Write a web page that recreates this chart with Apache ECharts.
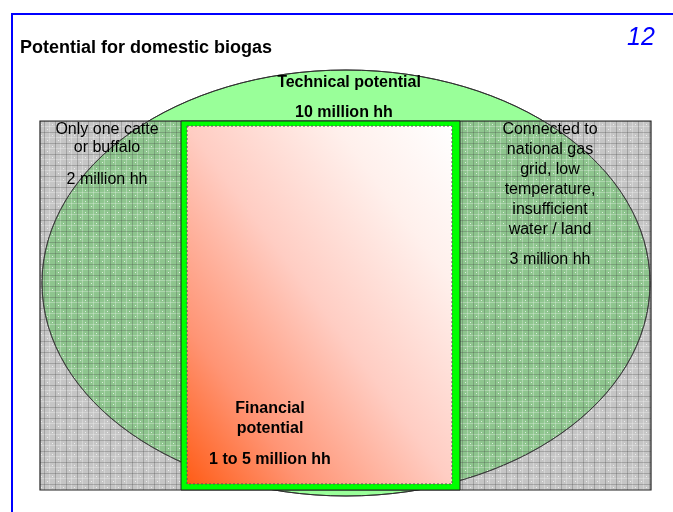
<!DOCTYPE html>
<html>
<head>
<meta charset="utf-8">
<style>
  html, body { margin: 0; padding: 0; background: #fff; }
  #chart { width: 673px; height: 512px; }
</style>
<script src="https://cdn.jsdelivr.net/npm/echarts@6/dist/echarts.min.js"></script>
</head>
<body>
<div id="chart"></div>
<script>
// --- data ---
const titleText = 'Potential for domestic biogas'
const pageNumber = '12'
const technicalName = 'Technical potential'
const technicalHouseholds = '10 million hh'
const regionNames = [
  'Only one catte\nor buffalo',
  'Financial\npotential',
  'Connected to\nnational gas\ngrid, low\ntemperature,\ninsufficient\nwater / land',
]
const regionHouseholds = ['2 million hh', '1 to 5 million hh', '3 million hh']

// --- layout (diagram space, same scale as the page) ---
const FRAME   = { x: 12, y: 14, x1: 673, y1: 512 }
const BOX     = { x0: 40, x1: 651, y0: 121, y1: 490 }
const MIDDLE  = { x0: 181, x1: 460, ix0: 187, ix1: 452, iy0: 126, iy1: 484 }
const ELLIPSE = { cx: 346, cy: 283, rx: 304, ry: 213 }
// label anchors: [x, y of first line top, y of household line]
const REGION_ANCHORS = [[107, 121, 180], [270, 399, 460], [550, 120, 260]]
const REGION_LINE_H  = [18, 20, 20]
const TECH_ANCHORS   = [[349, 83], [344, 113]]

const FONT = '"Liberation Sans", Arial, sans-serif'

function makeHatch() {
  const c = document.createElement('canvas')
  c.width = 11
  c.height = 11
  const ctx = c.getContext('2d')
  ctx.fillStyle = 'rgba(128,128,128,0.46)'
  ctx.fillRect(0, 0, 11, 11)
  ctx.fillStyle = 'rgba(255,255,255,0.28)'
  ctx.fillRect(5, 0, 1, 11)
  ctx.fillRect(0, 5, 11, 1)
  ctx.fillStyle = 'rgba(70,70,70,0.28)'
  ctx.fillRect(0, 0, 11, 1)
  ctx.fillRect(0, 0, 1, 11)
  ctx.fillStyle = 'rgba(255,255,255,0.7)'
  ctx.fillRect(3, 8, 1, 1)
  ctx.fillRect(8, 3, 1, 1)
  return c
}
const hatch = makeHatch()

function box(api, x0, y0, x1, y1) {
  const a = api.coord([x0, y0])
  const b = api.coord([x1, y1])
  return { x: a[0], y: a[1], width: b[0] - a[0], height: b[1] - a[1] }
}

function ellipseShape(api) {
  const a = api.coord([ELLIPSE.cx - ELLIPSE.rx, ELLIPSE.cy - ELLIPSE.ry])
  const b = api.coord([ELLIPSE.cx + ELLIPSE.rx, ELLIPSE.cy + ELLIPSE.ry])
  return { cx: (a[0] + b[0]) / 2, cy: (a[1] + b[1]) / 2, rx: (b[0] - a[0]) / 2, ry: (b[1] - a[1]) / 2 }
}

function textEl(api, x, y, text, opts) {
  const p = api.coord([x, y])
  return {
    type: 'text',
    x: p[0],
    y: p[1],
    style: Object.assign({
      text,
      fontFamily: FONT,
      fontSize: 16,
      fill: '#000',
      align: 'center',
      verticalAlign: 'middle',
    }, opts),
  }
}

// diagonal gradient whose iso-lines run along the top-left / bottom-right diagonal
function diagonalFill(w, h) {
  const s = w * w + h * h
  return new echarts.graphic.LinearGradient(0, 1, 2 * h * h / s, 1 - 2 * w * w / s, [
    { offset: 0, color: '#ff5c16' },
    { offset: 0.22, color: '#ff9474' },
    { offset: 0.5, color: '#ffcdc3' },
    { offset: 0.78, color: '#fff0ec' },
    { offset: 1, color: '#ffffff' },
  ])
}

const chart = echarts.init(document.getElementById('chart'), null, { renderer: 'canvas' })

chart.setOption({
  animation: false,
  backgroundColor: '#fff',
  title: [
    {
      text: titleText,
      left: 20,
      top: 39,
      padding: 0,
      textStyle: { fontFamily: FONT, fontSize: 18, fontWeight: 'bold', color: '#000' },
    },
    {
      text: pageNumber,
      left: 627,
      top: 26,
      padding: 0,
      textStyle: { fontFamily: FONT, fontSize: 25, fontStyle: 'italic', fontWeight: 'normal', color: '#0000ff' },
    },
  ],
  grid: { left: 0, right: 0, top: 0, bottom: 0 },
  xAxis: { type: 'value', min: 0, max: 673, show: false },
  yAxis: { type: 'value', min: 0, max: 512, inverse: true, show: false },
  series: [
    // page frame
    {
      type: 'custom',
      z: 1,
      data: [[0]],
      renderItem: (params, api) => {
        const tl = api.coord([FRAME.x, FRAME.y])
        const tr = api.coord([FRAME.x1, FRAME.y])
        const bl = api.coord([FRAME.x, FRAME.y1])
        return {
          type: 'polyline',
          shape: { points: [bl, tl, tr] },
          style: { stroke: '#0000ff', lineWidth: 2, fill: null },
        }
      },
    },
    // technical potential ellipse
    {
      type: 'custom',
      z: 2,
      data: [[0]],
      renderItem: (params, api) => ({
        type: 'ellipse',
        shape: ellipseShape(api),
        style: { fill: '#99ff99', stroke: '#222', lineWidth: 1 },
      }),
    },
    // hatched regions
    {
      type: 'custom',
      z: 3,
      data: [[0]],
      renderItem: (params, api) => ({
        type: 'group',
        children: [
          {
            type: 'rect',
            shape: box(api, BOX.x0, BOX.y0, BOX.x1, BOX.y1),
            style: { fill: { image: hatch, repeat: 'repeat' }, stroke: null },
          },
          {
            type: 'ellipse',
            shape: ellipseShape(api),
            style: { fill: null, stroke: '#333', lineWidth: 1, opacity: 0.8 },
          },
          {
            type: 'rect',
            shape: box(api, BOX.x0, BOX.y0, BOX.x1, BOX.y1),
            style: { fill: null, stroke: '#222', lineWidth: 1.2 },
          },
        ],
      }),
    },
    // financial potential block
    {
      type: 'custom',
      z: 4,
      data: [[0]],
      renderItem: (params, api) => {
        const inner = box(api, MIDDLE.ix0, MIDDLE.iy0, MIDDLE.ix1, MIDDLE.iy1)
        return {
          type: 'group',
          children: [
            {
              type: 'rect',
              shape: box(api, MIDDLE.x0, BOX.y0, MIDDLE.x1, BOX.y1),
              style: { fill: '#00ff00', stroke: '#222', lineWidth: 1 },
            },
            {
              type: 'rect',
              shape: inner,
              style: {
                fill: diagonalFill(inner.width, inner.height),
                stroke: '#555',
                lineWidth: 1,
                lineDash: [2, 2],
              },
            },
          ],
        }
      },
    },
    // labels
    {
      type: 'custom',
      z: 5,
      data: regionNames.map((_, i) => [i]),
      renderItem: (params, api) => {
        const i = params.dataIndex
        const [x, yTop, yHh] = REGION_ANCHORS[i]
        const bold = i === 1 ? 'bold' : 'normal'
        const children = [
          textEl(api, x, yTop, regionNames[i], {
            verticalAlign: 'top', lineHeight: REGION_LINE_H[i], fontWeight: bold,
          }),
          textEl(api, x, yHh, regionHouseholds[i], { fontWeight: bold }),
        ]
        if (i === 0) {
          children.push(textEl(api, TECH_ANCHORS[0][0], TECH_ANCHORS[0][1], technicalName, { fontWeight: 'bold' }))
          children.push(textEl(api, TECH_ANCHORS[1][0], TECH_ANCHORS[1][1], technicalHouseholds, { fontWeight: 'bold' }))
        }
        return { type: 'group', children }
      },
    },
  ],
})
</script>
</body>
</html>
